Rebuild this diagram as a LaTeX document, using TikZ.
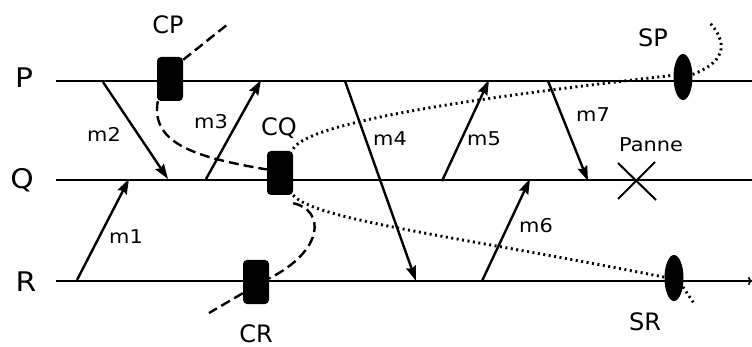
\documentclass[tikz,border=0pt]{standalone}
\usepackage{fontspec}
\setmainfont{DejaVu Sans}
\newfontfamily\procfont[FakeStretch=1.1]{DejaVu Sans}
\newfontfamily\msgfont[FakeStretch=1.1]{DejaVu Sans}
\usepackage{tikz}
\usetikzlibrary{arrows.meta, shapes.geometric}

\tikzset{
    proc/.style={font=\procfont\fontsize{27}{29}\selectfont, inner sep=1pt},
    ckptlabel/.style={font=\fontsize{24}{26}\selectfont, inner sep=1pt},
    msglabel/.style={font=\msgfont\fontsize{19}{21}\selectfont},
    axis/.style={line width=1.7pt},
    msg/.style={line width=2.4pt, -{Stealth[length=15pt, width=10pt, inset=2pt]}},
    ckpt/.style={rectangle, rounded corners=4pt, fill=black, minimum width=26pt, minimum height=44pt, inner sep=0pt},
    save/.style={ellipse, fill=black, minimum width=19pt, minimum height=46pt, inner sep=0pt},
    cutline/.style={line width=2.4pt, dash pattern=on 10pt off 5pt},
    dotline/.style={line width=2.9pt, dash pattern=on 2pt off 3.5pt}
}

\begin{document}
\begin{tikzpicture}[x=1pt, y=-1pt]
    \useasboundingbox (0,0) rectangle (752,347);

    % processes
    \node [proc] (P) at (24,77.5) {P};
    \node [proc] (Q) at (22,180)  {Q};
    \node [proc] (R) at (26,282)  {R};

    \coordinate (Pstart) at (56,81);   \coordinate (Pend) at (752,81);
    \coordinate (Qstart) at (56,180);  \coordinate (Qend) at (752,180);
    \coordinate (Rstart) at (56,281);  \coordinate (Rend) at (752,281);

    \draw [axis] (Pstart) -- (Pend);
    \draw [axis] (Qstart) -- (Qend);
    \draw [axis, -{To[length=4pt]}] (Rstart) -- (Rend);

    % checkpoints
    \node [ckpt] (cp) at (170,79)  {};
    \node [ckpt] (cq) at (280,173) {};
    \node [ckpt] (cr) at (256,282) {};
    \node [save] (sp) at (683,77)  {};
    \node [save] (sr) at (674,278) {};

    \node [ckptlabel] (cplabel) at (168,25)  {CP};
    \node [ckptlabel] (cqlabel) at (279,128) {CQ};
    \node [ckptlabel] (crlabel) at (256,334) {CR};
    \node [ckptlabel] (splabel) at (653,37.5) {SP};
    \node [ckptlabel] (srlabel) at (645,322) {SR};

    % messages
    \coordinate (m1a) at (77,280);  \coordinate (m1b) at (129,179);
    \coordinate (m2a) at (103,82);  \coordinate (m2b) at (168,179);
    \coordinate (m3a) at (206,179); \coordinate (m3b) at (261,80);
    \coordinate (m4a) at (345,81);  \coordinate (m4b) at (416,281);
    \coordinate (m5a) at (442,181); \coordinate (m5b) at (489,80);
    \coordinate (m6a) at (482,281); \coordinate (m6b) at (530,179);
    \coordinate (m7a) at (548,81);  \coordinate (m7b) at (588,181);

    \draw [msg] (m1a) -- (m1b);
    \draw [msg] (m2a) -- (m2b);
    \draw [msg] (m3a) -- (m3b);
    \draw [msg] (m4a) -- (m4b);
    \draw [msg] (m5a) -- (m5b);
    \draw [msg] (m6a) -- (m6b);
    \draw [msg] (m7a) -- (m7b);

    \node [msglabel] (l1) at (126,237) {m1};
    \node [msglabel] (l2) at (104,134) {m2};
    \node [msglabel] (l3) at (211,122) {m3};
    \node [msglabel] (l4) at (390,139) {m4};
    \node [msglabel] (l5) at (484,139) {m5};
    \node [msglabel] (l6) at (536,226) {m6};
    \node [msglabel] (l7) at (593,115) {m7};

    % failure of Q
    \coordinate (fail) at (637,181);
    \draw [line width=2pt] ([shift={(-19,-18)}]fail) -- ([shift={(19,19)}]fail);
    \draw [line width=2pt] ([shift={(18,-19)}]fail) -- ([shift={(-19,18)}]fail);
    \node [msglabel] (panne) at (651,145) {Panne};

    % recovery lines
    \coordinate (cptop) at (228,24);
    \coordinate (crbot) at (209,313);
    \draw [cutline] (cp.north east) ++(0,3) -- (cptop);
    \draw [cutline] ([xshift=1pt]cp.south west) .. controls (150,145) and (200,158) .. (cq.165);
    \draw [cutline] ([yshift=-8pt]cq.south east) .. controls (325,210) and (325,250) .. (cr.15);
    \draw [cutline] ([yshift=11pt]cr.south west) -- (crbot);

    \coordinate (sptop) at (710,23);
    \coordinate (srbot) at (695,305);
    \draw [dotline] ([yshift=2pt]cq.north east) .. controls (310,120) and (500,95) .. (sp.170);
    \draw [dotline] (sp.15) .. controls (730,60) and (725,40) .. (sptop);
    \draw [dotline] (cq.south east) .. controls (315,220) and (450,235) .. (sr.175);
    \draw [dotline] (sr.-45) -- (srbot);
\end{tikzpicture}
\end{document}
